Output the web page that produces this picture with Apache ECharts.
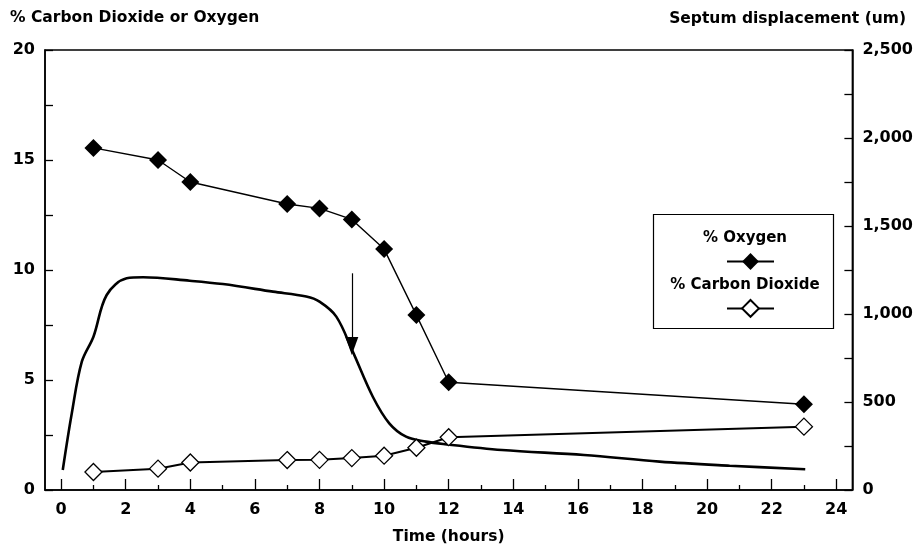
<!DOCTYPE html>
<html>
<head>
<meta charset="utf-8">
<script src="https://cdn.jsdelivr.net/npm/echarts@6/dist/echarts.min.js"></script>
<style>
  html, body { margin: 0; padding: 0; background: #fff; }
  #main { width: 916px; height: 550px; }
</style>
</head>
<body>
<div id="main"></div>
<script>
// sample times (hours)
const hours = [1, 3, 4, 7, 8, 9, 10, 11, 12, 23];
const oxygen = [15.55, 15.0, 14.0, 13.0, 12.8, 12.3, 10.95, 7.95, 4.9, 3.9];
const carbonDioxide = [0.82, 0.97, 1.25, 1.36, 1.37, 1.45, 1.56, 1.92, 2.4, 2.88];

// septum displacement trace (hours, um)
const septumTime = [0.05, 0.33, 0.64, 1.0, 1.41, 2.03, 2.54, 3.98, 5.01, 6.56, 7.59, 8.0,
  8.52, 9.03, 9.65, 10.16, 10.68, 11.3, 11.83, 13.65, 16.19, 18.53, 20.7, 23.04];
const septum = [114, 436, 729, 871, 1108, 1203, 1209, 1189, 1170, 1127, 1099, 1070,
  985, 786, 530, 379, 303, 275, 261, 227, 199, 161, 138, 118];

// arrow at 9 h (left axis units)
const arrowTime = 9;
const arrowFrom = 9.85;
const arrowTo = 6.55;

const majorTicks = [0, 2, 4, 6, 8, 10, 12, 14, 16, 18, 20, 22, 24];
const minorTicks = [1, 3, 5, 7, 9, 11, 13, 15, 17, 19, 21, 23];

const pair = (xs, ys) => xs.map((x, i) => [x, ys[i]]);

const font = "DejaVu Sans";
const labelStyle = { color: "#000", fontFamily: font, fontSize: 16, fontWeight: "bold" };
const axisLine = { show: true, onZero: false, lineStyle: { color: "#000", width: 1.5 } };

var myChart = echarts.init(document.getElementById("main"), null, { renderer: "canvas" });
myChart.setOption({
  animation: false,
  backgroundColor: "#fff",
  grid: {
    left: 45,
    right: 62,
    top: 50,
    bottom: 59,
    show: true,
    borderColor: "#000",
    borderWidth: 1.5
  },
  legend: {
    left: 721,
    top: 246,
    orient: "vertical",
    itemWidth: 47,
    itemHeight: 21,
    itemGap: 28,
    data: ["% Oxygen", "% Carbon Dioxide"],
    formatter: function() {
      return "";
    },
    textStyle: { fontSize: 1 }
  },
  graphic: [
    {
      type: "rect",
      shape: { x: 653.5, y: 214.5, width: 180, height: 114 },
      style: { fill: "#fff", stroke: "#000", lineWidth: 1.2 },
      z: 3
    },
    {
      type: "text",
      x: 745,
      y: 238,
      style: { text: "% Oxygen", align: "center", verticalAlign: "middle", fill: "#000", font: "bold 15px DejaVu Sans" },
      z: 5
    },
    {
      type: "text",
      x: 745,
      y: 285,
      style: { text: "% Carbon Dioxide", align: "center", verticalAlign: "middle", fill: "#000", font: "bold 15px DejaVu Sans" },
      z: 5
    },
    {
      type: "text",
      left: 10,
      top: 10,
      style: { text: "% Carbon Dioxide or Oxygen", fill: "#000", font: "bold 15.5px DejaVu Sans" }
    },
    {
      type: "text",
      right: 10,
      top: 11,
      style: { text: "Septum displacement (um)", fill: "#000", font: "bold 15.5px DejaVu Sans" }
    }
  ],
  xAxis: [
    {
      type: "value",
      position: "bottom",
      min: -0.5,
      max: 24.5,
      name: "Time (hours)",
      nameLocation: "middle",
      nameGap: 39,
      nameTextStyle: { color: "#000", fontFamily: font, fontSize: 15.5, fontWeight: "bold" },
      axisLine: axisLine,
      axisTick: { inside: true, length: 11, customValues: majorTicks, lineStyle: { color: "#000", width: 1.3 } },
      axisLabel: Object.assign({ customValues: majorTicks, margin: 12 }, labelStyle),
      splitLine: { show: false }
    },
    {
      type: "value",
      position: "bottom",
      min: -0.5,
      max: 24.5,
      axisLine: { show: false, onZero: false },
      axisTick: { inside: true, length: 5, customValues: minorTicks, lineStyle: { color: "#000", width: 1.3 } },
      axisLabel: { show: false },
      splitLine: { show: false }
    }
  ],
  yAxis: [
    {
      type: "value",
      position: "left",
      min: 0,
      max: 20,
      interval: 2.5,
      axisLine: axisLine,
      axisTick: { inside: true, length: 8, lineStyle: { color: "#000", width: 1.3 } },
      axisLabel: Object.assign({
        margin: 10,
        formatter: function(v) {
          return v % 5 === 0 ? String(v) : "";
        }
      }, labelStyle),
      splitLine: { show: false }
    },
    {
      type: "value",
      position: "right",
      min: 0,
      max: 2500,
      interval: 250,
      axisLine: axisLine,
      axisTick: { inside: true, length: 8, lineStyle: { color: "#000", width: 1.3 } },
      axisLabel: Object.assign({
        margin: 10,
        formatter: function(v) {
          return v % 500 === 0 ? v.toLocaleString("en-US") : "";
        }
      }, labelStyle),
      splitLine: { show: false }
    }
  ],
  series: [
    {
      name: "Septum displacement",
      type: "line",
      xAxisIndex: 0,
      yAxisIndex: 1,
      data: pair(septumTime, septum),
      smooth: 0.35,
      symbol: "none",
      lineStyle: { color: "#000", width: 2.6 },
      z: 2
    },
    {
      name: "% Oxygen",
      type: "line",
      xAxisIndex: 0,
      yAxisIndex: 0,
      data: pair(hours, oxygen),
      symbol: "diamond",
      symbolSize: 18,
      itemStyle: { color: "#000" },
      lineStyle: { color: "#000", width: 1.4 },
      z: 3,
      markLine: {
        silent: true,
        symbol: ["none", "triangle"],
        symbolSize: [13, 18],
        label: { show: false },
        lineStyle: { color: "#000", width: 1.2, type: "solid" },
        data: [[{ coord: [arrowTime, arrowFrom] }, { coord: [arrowTime, arrowTo] }]]
      }
    },
    {
      name: "% Carbon Dioxide",
      type: "line",
      xAxisIndex: 0,
      yAxisIndex: 0,
      data: pair(hours, carbonDioxide),
      symbol: "diamond",
      symbolSize: 17,
      itemStyle: { color: "#fff", borderColor: "#000", borderWidth: 1.3 },
      lineStyle: { color: "#000", width: 2 },
      z: 4
    }
  ]
});
</script>
</body>
</html>
